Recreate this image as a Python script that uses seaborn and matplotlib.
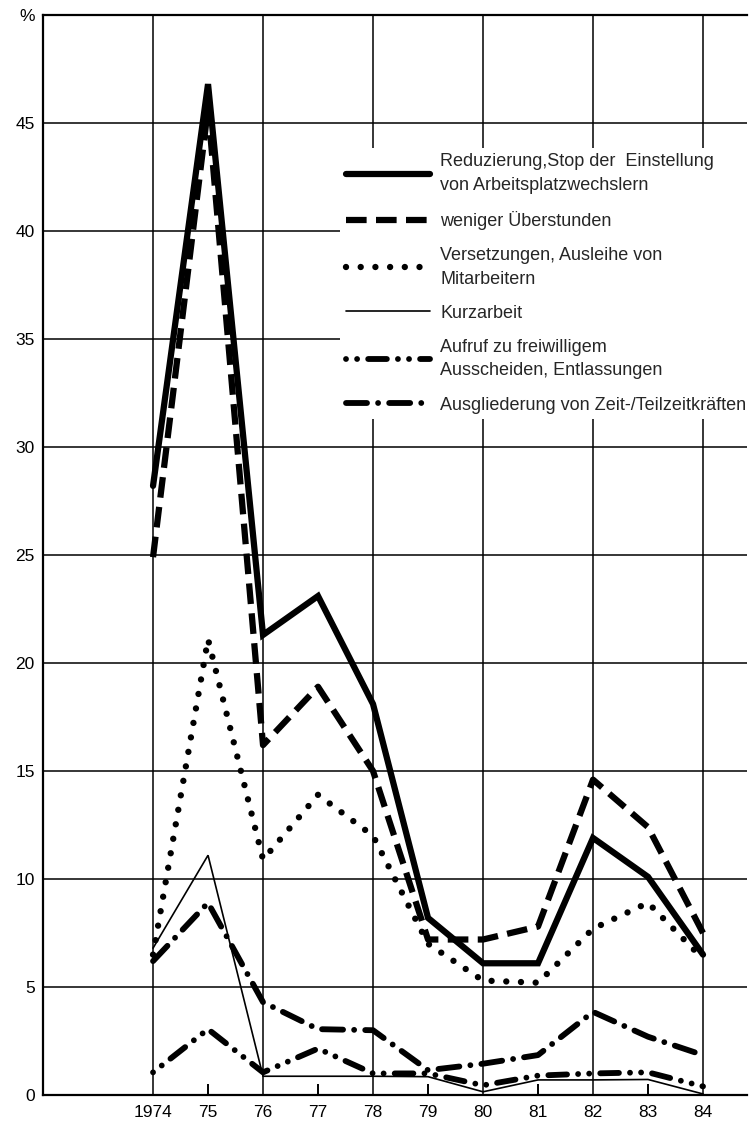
import pandas as pd
import matplotlib
matplotlib.use('Agg')
import matplotlib.pyplot as plt
import seaborn as sns

years = list(range(1974, 1985))
year_labels = ['1974', '75', '76', '77', '78', '79', '80', '81', '82', '83', '84']
reduzierung = [28.2, 46.8, 21.3, 23.1, 18.1, 8.2, 6.1, 6.1, 11.9, 10.1, 6.5]
ueberstunden = [24.9, 45.7, 16.2, 18.9, 15.0, 7.2, 7.2, 7.8, 14.6, 12.4, 7.5]
versetzungen = [6.5, 21.1, 10.9, 13.9, 12.0, 7.0, 5.3, 5.2, 7.7, 8.9, 6.3]
kurzarbeit = [6.8, 11.1, 0.87, 0.87, 0.87, 0.85, 0.15, 0.7, 0.7, 0.72, 0.05]
aufruf = [1.05, 3.05, 1.05, 2.15, 1.0, 1.0, 0.45, 0.9, 1.0, 1.05, 0.4]
ausgliederung = [6.2, 8.9, 4.3, 3.05, 3.0, 1.15, 1.45, 1.85, 3.85, 2.7, 1.85]

labels = ['Reduzierung,Stop der  Einstellung\nvon Arbeitsplatzwechslern',
          'weniger Überstunden',
          'Versetzungen, Ausleihe von\nMitarbeitern',
          'Kurzarbeit',
          'Aufruf zu freiwilligem\nAusscheiden, Entlassungen',
          'Ausgliederung von Zeit-/Teilzeitkräften']

df = pd.DataFrame({'Jahr': years, 'red': reduzierung, 'ueb': ueberstunden,
                   'ver': versetzungen, 'kurz': kurzarbeit,
                   'auf': aufruf, 'aus': ausgliederung})

sns.set_theme(style='white')
plt.rcParams['font.family'] = ['Liberation Sans', 'DejaVu Sans']

fig = plt.figure(figsize=(7.51, 11.26), dpi=100)
ax = fig.add_axes([0.0573, 0.0275, 0.9374, 0.9592])

styles = [
    ('red', dict(lw=4.5, linestyle='-')),
    ('ueb', dict(lw=4.5, linestyle=(0, (3.3, 1.5)), dash_capstyle='butt')),
    ('ver', dict(lw=4.6, linestyle=(0, (0.001, 2.3)), dash_capstyle='round')),
    ('kurz', dict(lw=1.2, linestyle='-')),
    ('auf', dict(lw=4.2, linestyle=(0, (0.001, 1.9, 0.001, 1.9, 3.2, 1.9)), dash_capstyle='round')),
    ('aus', dict(lw=4.2, linestyle=(0, (3.6, 1.9, 0.001, 1.9)), dash_capstyle='round')),
]
for (col, kw), lab in zip(styles, labels):
    sns.lineplot(data=df, x='Jahr', y=col, ax=ax, color='black', label=lab,
                 solid_joinstyle='miter', **kw)

ax.set_xlim(1972, 1984.8)
ax.set_ylim(0, 50)

ax.set_yticks(range(0, 55, 5))
ax.set_yticklabels([str(v) for v in range(0, 50, 5)] + ['%'])
ax.set_xticks([y for y in years if y % 2 == 0])
ax.set_xticklabels([l for y, l in zip(years, year_labels) if y % 2 == 0])
ax.set_xticks([y for y in years if y % 2 == 1], minor=True)
ax.set_xticklabels([l for y, l in zip(years, year_labels) if y % 2 == 1], minor=True)

ax.tick_params(axis='both', which='major', length=0, labelsize=12.5, colors='black', pad=7)
ax.tick_params(axis='y', pad=6)
ax.tick_params(axis='x', which='minor', direction='in', length=8, width=1.4,
               labelsize=12.5, colors='black', pad=7, bottom=True)

ax.grid(True, which='major', color='black', lw=1.1)
for s in ['left', 'top', 'bottom']:
    ax.spines[s].set_color('black')
    ax.spines[s].set_linewidth(1.6)
ax.spines['right'].set_visible(False)

ax.set_xlabel('')
ax.set_ylabel('')

leg = ax.legend(loc='upper left', bbox_to_anchor=(0.422, 0.877), frameon=True,
                fontsize=13, handlelength=4.7, handletextpad=0.55, labelspacing=0.95,
                borderpad=0.3, borderaxespad=0)
for t in leg.get_texts():
    t.set_linespacing(1.5)
leg.get_frame().set_facecolor('white')
leg.get_frame().set_edgecolor('none')
leg.get_frame().set_alpha(1)

plt.savefig('out.png', dpi=100)
